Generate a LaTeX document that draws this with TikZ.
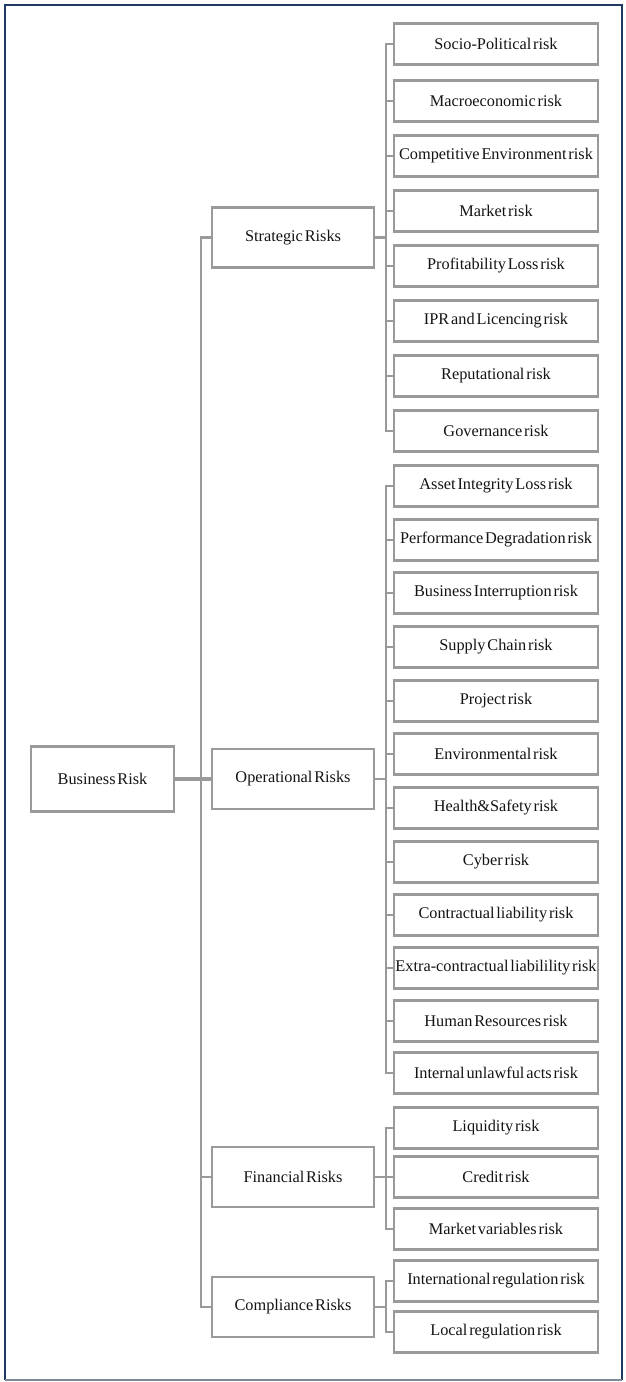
\documentclass[tikz,border=0pt]{standalone}
\usepackage{fontspec}
\setmainfont{Liberation Serif}[WordSpace=0.45]
\usepackage{tikz}
\usetikzlibrary{positioning,calc}
\definecolor{boxgray}{HTML}{9A9A9A}
\definecolor{framenavy}{HTML}{1F3B63}
\definecolor{framebase}{HTML}{7D8A99}

\tikzset{
  riskbox/.style={draw=boxgray,line width=2.4pt,fill=white,inner sep=1pt,text=black!92,font=\fontsize{16.3}{18}\selectfont},
  rootbox/.style={riskbox,minimum width=143pt,minimum height=65pt},
  groupbox/.style={riskbox,minimum width=162pt,minimum height=60pt},
  itembox/.style={riskbox,minimum width=204pt,minimum height=41pt},
  link/.style={draw=boxgray,line width=2.4pt}
}

\begin{document}
\begin{tikzpicture}[x=1pt,y=-1pt]
\useasboundingbox (0,0) rectangle (625,1382);
\draw[framenavy,line width=1.5pt] (5,1380)--(5,5)--(622,5)--(622,1380);
\draw[framebase,line width=1.5pt] (5,1380)--(622,1380);

\node[rootbox] (br) at (102.5,779) {Business Risk};
\node[groupbox] (st) at (293,237.5) {Strategic Risks};
\node[groupbox] (op) at (293,779) {Operational Risks};
\node[groupbox] (fi) at (293,1177) {Financial Risks};
\node[groupbox] (co) at (293,1307) {Compliance Risks};

\foreach \n/\y/\t in {s1/44/Socio-Political risk,s2/101/Macroeconomic risk,s3/156/Competitive Environment risk,s4/211/Market risk,s5/266/Profitability Loss risk,s6/321/IPR and Licencing risk,s7/376/Reputational risk,s8/431/Governance risk,
  o1/486/Asset Integrity Loss risk,o2/540/Performance Degradation risk,o3/593/Business Interruption risk,o4/647/Supply Chain risk,o5/701/Project risk,o6/754/Environmental risk,o7/808/Health\&Safety risk,o8/862/Cyber risk,o9/915/Contractual liability risk,o10/968/Extra-contractual liabilility risk,o11/1021/Human Resources risk,o12/1073/Internal unlawful acts risk,
  f1/1128/Liquidity risk,f2/1177/Credit risk,f3/1229/Market variables risk,
  c1/1281/International regulation risk,c2/1332/Local regulation risk}{\node[itembox] (\n) at (496,\y) {\t};}

\foreach \g in {st,op,fi,co}{\draw[link] (br.east)--++(26,0) |- (\g.west);}
\draw[link,line width=3.8pt] (br.east)--(op.west);
\foreach \i in {1,...,8}{\draw[link] (st.east)--++(11,0) |- (s\i.west);}
\foreach \i in {1,...,12}{\draw[link] (op.east)--++(11,0) |- (o\i.west);}
\foreach \i in {1,2,3}{\draw[link] (fi.east)--++(11,0) |- (f\i.west);}
\foreach \i in {1,2}{\draw[link] (co.east)--++(11,0) |- (c\i.west);}
\end{tikzpicture}
\end{document}
